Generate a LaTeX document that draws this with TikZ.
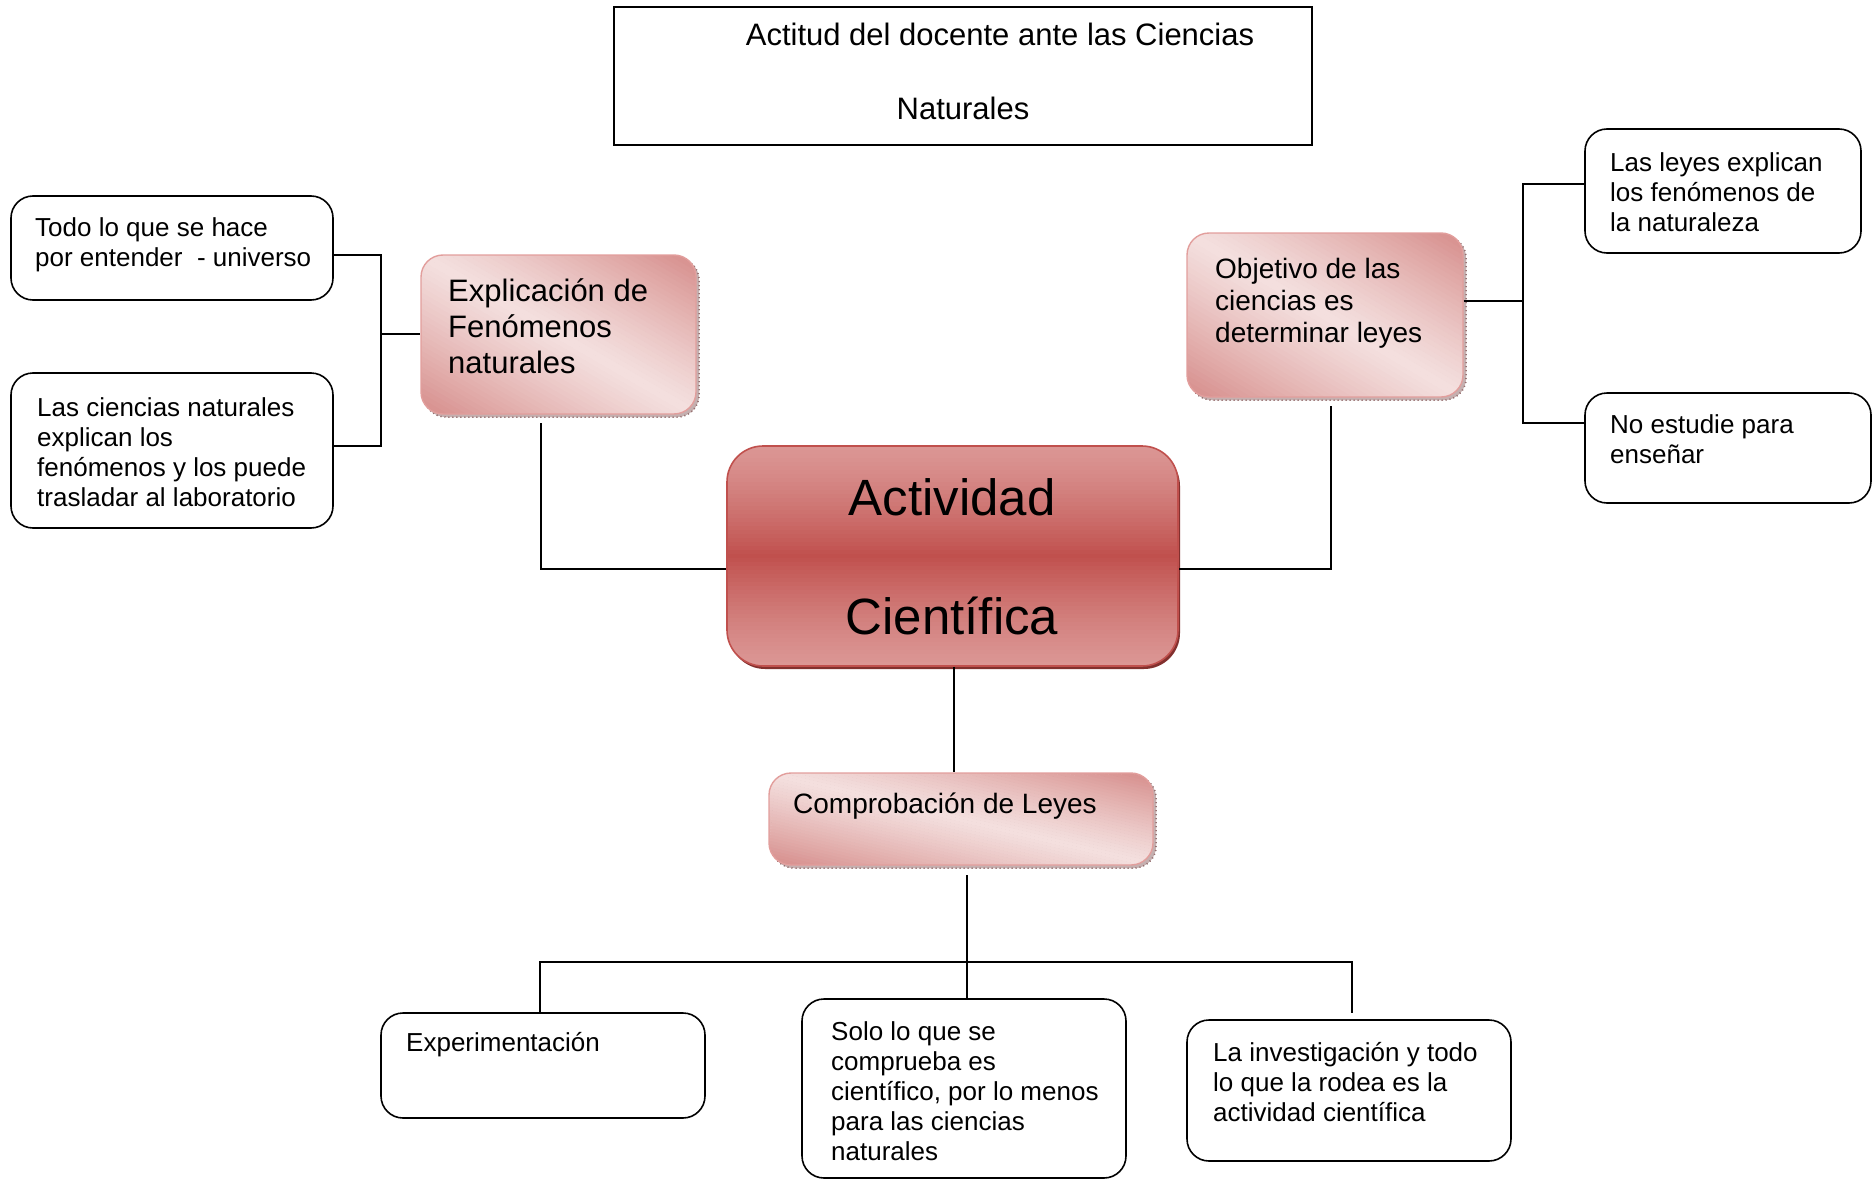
\documentclass[tikz,border=0pt]{standalone}
\usepackage{fontspec}
\setmainfont{Liberation Sans}
\usetikzlibrary{calc}

\definecolor{pinkdark}{RGB}{214,140,138}
\definecolor{pinklight}{RGB}{244,224,223}
\definecolor{pinkedge}{RGB}{226,158,156}
\definecolor{reddeep}{RGB}{192,80,77}
\definecolor{redlight}{RGB}{219,150,148}
\definecolor{redshadow}{RGB}{130,48,46}
\definecolor{hatch}{RGB}{150,112,112}

\tikzset{
  wire/.style={draw=black, line width=1.8},
  framebox/.style={draw=black, line width=1.6, inner sep=0, fill=white},
  plainbox/.style={draw=black, line width=1.6, rounded corners=22, inner sep=0, fill=white},
  pinkbox/.style={draw=pinkedge, line width=1.4, rounded corners=22, inner sep=0},
  pinkshadow/.style={fill=hatch!55, draw=hatch, line width=1.5, dash pattern=on 1 off 3,
    rounded corners=22},
  bigbox/.style={draw=reddeep, line width=1.6, rounded corners=36, inner sep=0},
  txt/.style={inner sep=0, anchor=north west, align=left, font=\fontsize{26}{30}\selectfont},
  midtxt/.style={inner sep=0, anchor=north west, align=left, font=\fontsize{28}{32}\selectfont},
  largetxt/.style={inner sep=0, anchor=north west, align=left, font=\fontsize{31}{36}\selectfont},
}

% diagonal pink gradient inside a rounded rectangle (x0,y0)-(x1,y1), y pointing down:
% dark towards the lower left and upper right corners, light along the other diagonal
\newcommand{\pinkgradient}[4]{%
  \begin{scope}
    \clip[rounded corners=22] (#1,#2) rectangle (#3,#4);
    \foreach \k in {0,...,59} {
      \pgfmathsetmacro{\sa}{\k/30}
      \pgfmathsetmacro{\sb}{(\k+1.1)/30}
      \pgfmathsetmacro{\mix}{100*(abs(1-(\k+0.5)/30))^1.15}
      \fill[pinkdark!\mix!pinklight]
        ({#1+(\sa+1)*(#3-#1)},{#4+(#4-#2)}) --
        ({#1+(\sb+1)*(#3-#1)},{#4+(#4-#2)}) --
        ({#1+(\sb-2)*(#3-#1)},{#4-2*(#4-#2)}) --
        ({#1+(\sa-2)*(#3-#1)},{#4-2*(#4-#2)}) -- cycle;
    }
  \end{scope}}

% vertical red gradient, light at top and bottom, deep in the middle
\newcommand{\redgradient}[4]{%
  \begin{scope}
    \clip[rounded corners=36] (#1,#2) rectangle (#3,#4);
    \foreach \k in {0,...,54} {
      \pgfmathsetmacro{\ya}{#2+\k*(#4-#2)/55}
      \pgfmathsetmacro{\yb}{#2+(\k+1.2)*(#4-#2)/55}
      \pgfmathsetmacro{\mix}{100*(1-abs(2*(\k+0.5)/55-1))^1.3}
      \fill[reddeep!\mix!redlight] (#1,\ya) rectangle (#3,\yb);
    }
  \end{scope}}

\begin{document}
\begin{tikzpicture}[x=1pt, y=-1pt]
\useasboundingbox (0,0) rectangle (1874,1180);

% heading
\node[framebox, minimum width=698, minimum height=138] (title) at (963,76) {};
\node[inner sep=0, anchor=north, align=center, font=\fontsize{31}{74}\selectfont]
  (titletext) at (963,23) {\hspace*{74pt}Actitud del docente ante las Ciencias\\Naturales};

% shadows under the shaded pink boxes
\fill[pinkshadow] (424,258) rectangle (699,417);
\fill[pinkshadow] (1190,236) rectangle (1466,400);
\fill[pinkshadow] (772,776) rectangle (1156,868);
\draw[pinkshadow] (424,258) rectangle (699,417);
\draw[pinkshadow] (1190,236) rectangle (1466,400);
\draw[pinkshadow] (772,776) rectangle (1156,868);
% shadow of the central box
\fill[redshadow, rounded corners=36] (729,450) rectangle (1180,669);

% central box
\redgradient{727}{446}{1178}{666}
\node[bigbox, minimum width=451, minimum height=220] (act) at (952.5,556) {};
\node[inner sep=0, anchor=north, align=center, font=\fontsize{51}{119}\selectfont]
  (acttext) at (952,478) {Actividad\\Científica};

% shaded pink boxes
\pinkgradient{421}{255}{696}{414}
\node[pinkbox, minimum width=275, minimum height=159] (expl) at (558.5,334.5) {};
\node[largetxt] at (448,278) {Explicación de\\Fenómenos\\naturales};

\pinkgradient{1187}{233}{1463}{397}
\node[pinkbox, minimum width=276, minimum height=164] (obj) at (1325,315) {};
\node[midtxt] at (1215,258) {Objetivo de las\\ciencias es\\determinar leyes};

\pinkgradient{769}{773}{1153}{865}
\node[pinkbox, minimum width=384, minimum height=92] (comp) at (961,819) {};
\node[midtxt] at (793,793) {Comprobación de Leyes};

% outlined boxes
\node[plainbox, minimum width=322, minimum height=104] (todo) at (172,248) {};
\node[txt] at (35,217) {Todo lo que se hace\\por entender \ - universo};

\node[plainbox, minimum width=322, minimum height=155] (lasc) at (172,450.5) {};
\node[txt] at (37,397) {Las ciencias naturales\\explican los\\fenómenos y los puede\\trasladar al laboratorio};

\node[plainbox, minimum width=276, minimum height=124] (leyes) at (1723,191) {};
\node[txt] at (1610,152) {Las leyes explican\\los fenómenos de\\la naturaleza};

\node[plainbox, minimum width=286, minimum height=110] (noest) at (1728,448) {};
\node[txt] at (1610,414) {No estudie para\\enseñar};

\node[plainbox, minimum width=324, minimum height=105] (expe) at (543,1065.5) {};
\node[txt] at (406,1032) {Experimentación};

\node[plainbox, minimum width=324, minimum height=179] (solo) at (964,1088.5) {};
\node[txt] at (831,1021) {Solo lo que se\\comprueba es\\científico, por lo menos\\para las ciencias\\naturales};

\node[plainbox, minimum width=324, minimum height=141] (inv) at (1349,1090.5) {};
\node[txt] at (1213,1042) {La investigación y todo\\lo que la rodea es la\\actividad científica};

% left branch
\coordinate (lj) at (381,334);
\draw[wire] (todo.east |- 0,255) -| (lj |- 0,446) -- (lasc.east |- 0,446);
\draw[wire] (lj) -- (expl.west |- lj);
\coordinate (le) at (541,423);
\draw[wire] (le) |- (act.west |- 0,569);

% right branch
\coordinate (re) at (1331,406);
\draw[wire] (re) |- (act.east |- 0,569);
\coordinate (rj) at (1523,301);
\draw[wire] (obj.east |- rj) -- (rj);
\draw[wire] (leyes.west |- 0,184) -| (rj |- 0,423) -- (noest.west |- 0,423);

% lower branch
\draw[wire] (act.south -| 954,0) -- (comp.north -| 954,0);
\coordinate (cb) at (967,875);
\coordinate (bar) at (967,962);
\draw[wire] (cb) -- (solo.north -| cb);
\draw[wire] (expe.north -| 540,0) |- (bar) -| (1352,1013);
\end{tikzpicture}
\end{document}
